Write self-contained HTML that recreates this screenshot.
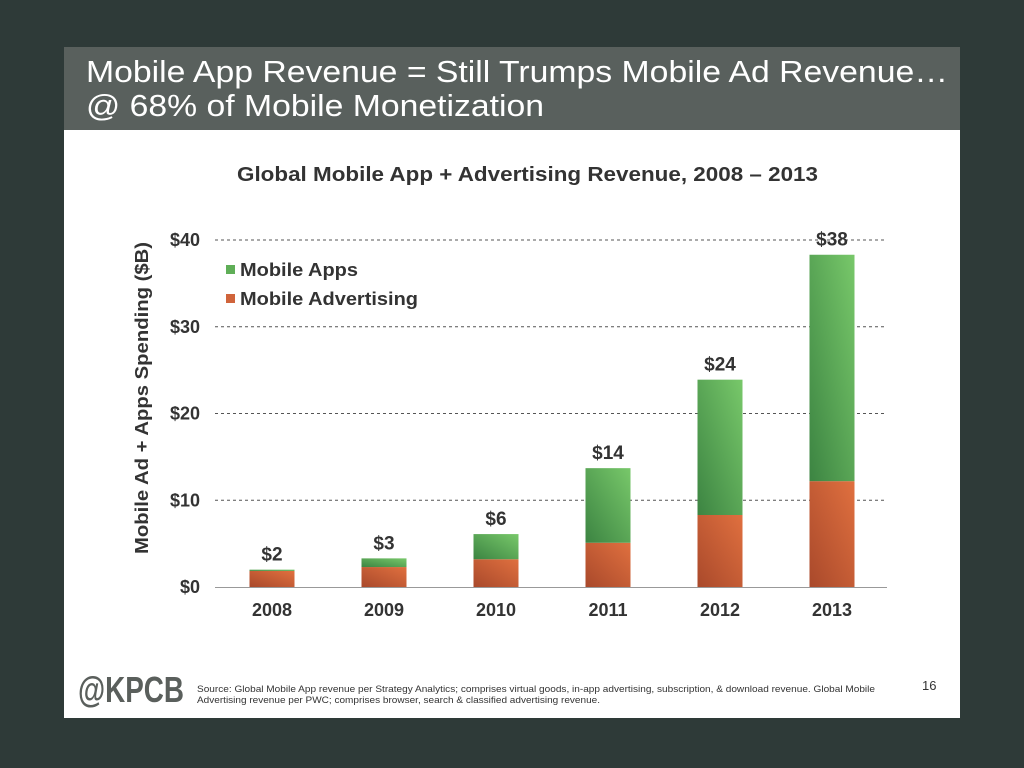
<!DOCTYPE html>
<html><head><meta charset="utf-8"><style>
body{margin:0;width:1024px;height:768px;background:#2e3a38;font-family:"Liberation Sans",sans-serif;overflow:hidden;position:relative}
.slide{position:absolute;left:64px;top:47px;width:896px;height:671px;background:#fff}
.banner{position:absolute;left:0;top:0;width:896px;height:83px;background:#59605d}
</style></head><body>
<div class="slide">
<div class="banner"></div>
</div>
<svg width="1024" height="768" style="position:absolute;left:0;top:0">
<defs>
<linearGradient id="gg" x1="0" y1="1" x2="1" y2="0"><stop offset="0" stop-color="#3c8442"/><stop offset="1" stop-color="#78c86a"/></linearGradient>
<linearGradient id="og" x1="0" y1="1" x2="1" y2="0"><stop offset="0" stop-color="#a9492b"/><stop offset="1" stop-color="#e0703f"/></linearGradient>
</defs>
<text x="86" y="82" font-size="31" fill="#fff" textLength="862" lengthAdjust="spacingAndGlyphs">Mobile App Revenue = Still Trumps Mobile Ad Revenue…</text>
<text x="86" y="116" font-size="31" fill="#fff" textLength="458" lengthAdjust="spacingAndGlyphs">@ 68% of Mobile Monetization</text>
<text x="237" y="181" font-size="20" font-weight="bold" fill="#333" textLength="581" lengthAdjust="spacingAndGlyphs">Global Mobile App + Advertising Revenue, 2008 – 2013</text>
<text transform="translate(148,398) rotate(-90)" text-anchor="middle" font-size="18" font-weight="bold" fill="#333" textLength="312" lengthAdjust="spacingAndGlyphs">Mobile Ad + Apps Spending ($B)</text>
<g id="grid"></g><g id="bars"></g>
<g>
<rect x="226" y="265" width="9" height="9" fill="#5fae57"/>
<text x="240" y="276" font-size="18" font-weight="bold" fill="#333" textLength="118" lengthAdjust="spacingAndGlyphs">Mobile Apps</text>
<rect x="226" y="294" width="9" height="9" fill="#d0643b"/>
<text x="240" y="305" font-size="18" font-weight="bold" fill="#333" textLength="178" lengthAdjust="spacingAndGlyphs">Mobile Advertising</text>
</g>
<text x="78" y="702" font-size="36" font-weight="bold" fill="#5a5f5c" textLength="106" lengthAdjust="spacingAndGlyphs">@KPCB</text>
<text x="197" y="692" font-size="9.5" fill="#333" textLength="678" lengthAdjust="spacingAndGlyphs">Source: Global Mobile App revenue per Strategy Analytics; comprises virtual goods, in-app advertising, subscription, &amp; download revenue. Global Mobile</text>
<text x="197" y="703" font-size="9.5" fill="#333" textLength="403" lengthAdjust="spacingAndGlyphs">Advertising revenue per PWC; comprises browser, search &amp; classified advertising revenue.</text>
<text x="922" y="690" font-size="13" fill="#333">16</text>
</svg>
<script>
const years=["2008","2009","2010","2011","2012","2013"];
const adRev=[1.85,2.3,3.2,5.1,8.3,12.2];
const appRev=[0.15,1.0,2.9,8.6,15.6,26.1];
const totalLabels=["$2","$3","$6","$14","$24","$38"];
const yTicks=[0,10,20,30,40];
const yTickLabels=["$0","$10","$20","$30","$40"];
const NS="http://www.w3.org/2000/svg";
const y=v=>587-v*8.675, x=i=>272+i*112;
function mk(t,a,p){const e=document.createElementNS(NS,t);for(const k in a)e.setAttribute(k,a[k]);p.appendChild(e);return e;}
const grid=document.getElementById('grid'),bars=document.getElementById('bars');
yTicks.forEach((t,i)=>{
 if(t>0){const l=mk('line',{x1:215,x2:887,y1:y(t),y2:y(t),stroke:'#555','stroke-dasharray':'3,3','stroke-width':1},grid);
 
 }
 const tx=mk('text',{x:200,y:y(t)+6,'text-anchor':'end','font-size':18,'font-weight':'bold',fill:'#333'},grid);tx.textContent=yTickLabels[i];
 
 
});
const ax=mk('line',{x1:215,x2:887,y1:587.5,y2:587.5,stroke:'#999'},grid);


years.forEach((yr,i)=>{
 const cx=x(i),w=45;
 const a=mk('rect',{x:cx-w/2,y:y(adRev[i]),width:w,height:adRev[i]*8.675,fill:'url(#og)'},bars);
 
 
 const tot=adRev[i]+appRev[i];
 const b=mk('rect',{x:cx-w/2,y:y(tot),width:w,height:appRev[i]*8.675,fill:'url(#gg)'},bars);
 
 
 const lb=mk('text',{x:cx,y:y(tot)-9,'text-anchor':'middle','font-size':19,'font-weight':'bold',fill:'#333'},bars);lb.textContent=totalLabels[i];
 
 
 const xl=mk('text',{x:cx,y:616,'text-anchor':'middle','font-size':18,'font-weight':'bold',fill:'#333'},bars);xl.textContent=yr;
 
 
});
</script>
</body></html>
